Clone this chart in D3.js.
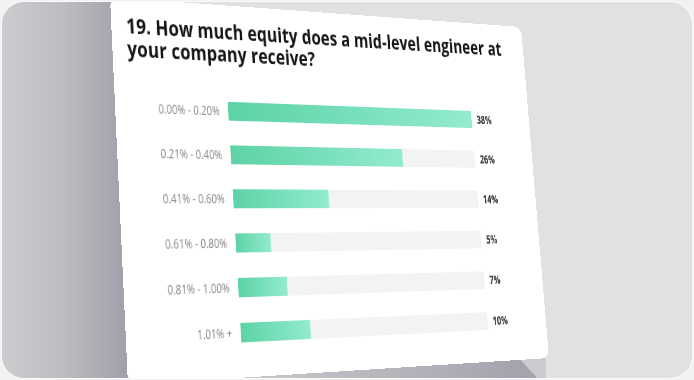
<!DOCTYPE html>
<html>
<head>
<meta charset="utf-8">
<script src="https://cdn.jsdelivr.net/npm/d3@7"></script>
<style>
  html, body { margin:0; padding:0; background:#f2f2f2; }
  #stage { position:relative; width:694px; height:380px; overflow:hidden; }
  #rim { position:absolute; left:0; top:0; width:694px; height:380px; background:#fbfbfb;
         clip-path: inset(1px 1px 1px 1px round 23px); }
  #frame { position:absolute; left:0; top:0; width:694px; height:380px; background:#e1e1e1;
           clip-path: inset(2px 2px 2px 2px round 22px); }
  #bg { position:absolute; left:0; top:0; }
  #card { position:absolute; left:0; top:0; transform-origin:0 0; }
  #card svg { display:block; }
</style>
</head>
<body>
<div id="stage">
  <div id="rim"></div>
  <div id="frame">
    <svg id="bg" width="694" height="380"></svg>
    <div id="card"></div>
  </div>
</div>
<script>
// data
var categories = ["0.00% - 0.20%", "0.21% - 0.40%", "0.41% - 0.60%", "0.61% - 0.80%", "0.81% - 1.00%", "1.01% +"];
var values = [38, 26, 14, 5, 7, 10];
var titleLines = ["19. How much equity does a mid-level engineer at", "your company receive?"];

// flat card size and where its corners land on screen
var W = 580, H = 372;
var corners = [[110, -3], [521, 27], [549, 358], [128, 385]];

function squareToQuad(p) {
	var x0 = p[0][0], y0 = p[0][1], x1 = p[1][0], y1 = p[1][1];
	var x2 = p[2][0], y2 = p[2][1], x3 = p[3][0], y3 = p[3][1];
	var dx1 = x1 - x2, dx2 = x3 - x2, dx3 = x0 - x1 + x2 - x3;
	var dy1 = y1 - y2, dy2 = y3 - y2, dy3 = y0 - y1 + y2 - y3;
	var den = dx1 * dy2 - dx2 * dy1;
	var g = (dx3 * dy2 - dx2 * dy3) / den;
	var h = (dx1 * dy3 - dx3 * dy1) / den;
	return {a: x1 - x0 + g * x1, b: x3 - x0 + h * x3, c: x0,
	        d: y1 - y0 + g * y1, e: y3 - y0 + h * y3, f: y0, g: g, h: h};
}

var m = squareToQuad(corners);
d3.select('#card')
	.style('width', W + 'px')
	.style('height', H + 'px')
	.style('transform', 'matrix3d(' + [m.a / W, m.d / W, 0, m.g / W,
		m.b / H, m.e / H, 0, m.h / H, 0, 0, 1, 0, m.c, m.f, 0, 1].join(',') + ')');

// background shadows
var bg = d3.select('#bg');
var defs = bg.append('defs');

var lg = defs.append('linearGradient').attr('id', 'leftShade')
	.attr('gradientUnits', 'userSpaceOnUse')
	.attr('x1', 0).attr('y1', 0).attr('x2', 125).attr('y2', 0);
lg.append('stop').attr('offset', 0).attr('stop-color', '#cdcdd0');
lg.append('stop').attr('offset', 0.5).attr('stop-color', '#bcbcc1');
lg.append('stop').attr('offset', 1).attr('stop-color', '#a2a1ab');

var bgr = defs.append('linearGradient').attr('id', 'bottomShade')
	.attr('gradientUnits', 'userSpaceOnUse')
	.attr('x1', 240).attr('y1', 0).attr('x2', 520).attr('y2', 0);
bgr.append('stop').attr('offset', 0).attr('stop-color', '#c9c9cd');
bgr.append('stop').attr('offset', 1).attr('stop-color', '#a5a4ae');

bg.append('polygon')
	.attr('points', '0,0 140,0 150,390 0,390')
	.style('fill', 'url(#leftShade)');

bg.append('polygon')
	.attr('points', '130,395 130,382 300,372 536,356 546,358 546,380 540,390')
	.style('fill', '#cbcbcf');

bg.append('polygon')
	.attr('points', '130,395 130,382 300,372 518,357 537,378 537,395')
	.style('fill', 'url(#bottomShade)');

// card
var svg = d3.select('#card').append('svg')
	.attr('width', W)
	.attr('height', H);

var cdefs = svg.append('defs');
var bar = cdefs.append('linearGradient').attr('id', 'barFill')
	.attr('x1', 0).attr('y1', 0).attr('x2', 1).attr('y2', 0);
bar.append('stop').attr('offset', 0).attr('stop-color', '#5dd3a6');
bar.append('stop').attr('offset', 1).attr('stop-color', '#93ebcf');

svg.append('rect')
	.attr('x', 0)
	.attr('y', 0)
	.attr('width', W)
	.attr('height', H)
	.attr('rx', 10)
	.style('fill', '#fff');

svg.selectAll('text.title')
	.data(titleLines)
	.enter().append('text')
	.attr('class', 'title')
	.attr('x', 18)
	.attr('y', function(d, i) { return 35 + i * 23; })
	.text(function(d) { return d; })
	.style('font-family', '"Open Sans", sans-serif')
	.style('font-weight', 700)
	.style('font-size', '21px')
	.style('letter-spacing', '0.15px')
	.style('fill', '#141414');

var x = d3.scaleLinear()
	.domain([0, d3.max(values)])
	.range([141, 488]);

var y = d3.scaleBand()
	.domain(categories)
	.range([99, 99 + 5 * 44 + 19])
	.paddingInner(25 / 44);

var rows = svg.selectAll('g.row')
	.data(categories)
	.enter().append('g')
	.attr('class', 'row')
	.attr('transform', function(d) { return 'translate(0,' + y(d) + ')'; });

rows.append('rect') // track
	.attr('x', x(0))
	.attr('y', 0)
	.attr('width', x.range()[1] - x(0))
	.attr('height', y.bandwidth())
	.style('fill', '#f3f3f5');

rows.append('rect') // value
	.attr('x', x(0))
	.attr('y', 0)
	.attr('width', function(d, i) { return x(values[i]) - x(0); })
	.attr('height', y.bandwidth())
	.style('fill', 'url(#barFill)');

rows.append('text')
	.attr('x', x(0) - 11)
	.attr('y', y.bandwidth() / 2)
	.attr('dy', '0.35em')
	.attr('text-anchor', 'end')
	.text(function(d) { return d; })
	.style('font-family', '"Open Sans", sans-serif')
	.style('font-size', '12px')
	.style('fill', '#858585');

rows.append('text')
	.attr('x', x.range()[1] + 8)
	.attr('y', y.bandwidth() / 2)
	.attr('dy', '0.35em')
	.attr('text-anchor', 'start')
	.text(function(d, i) { return values[i] + '%'; })
	.style('font-family', '"Open Sans", sans-serif')
	.style('font-weight', 700)
	.style('font-size', '11.5px')
	.style('fill', '#2b2b2b');
</script>
</body>
</html>
